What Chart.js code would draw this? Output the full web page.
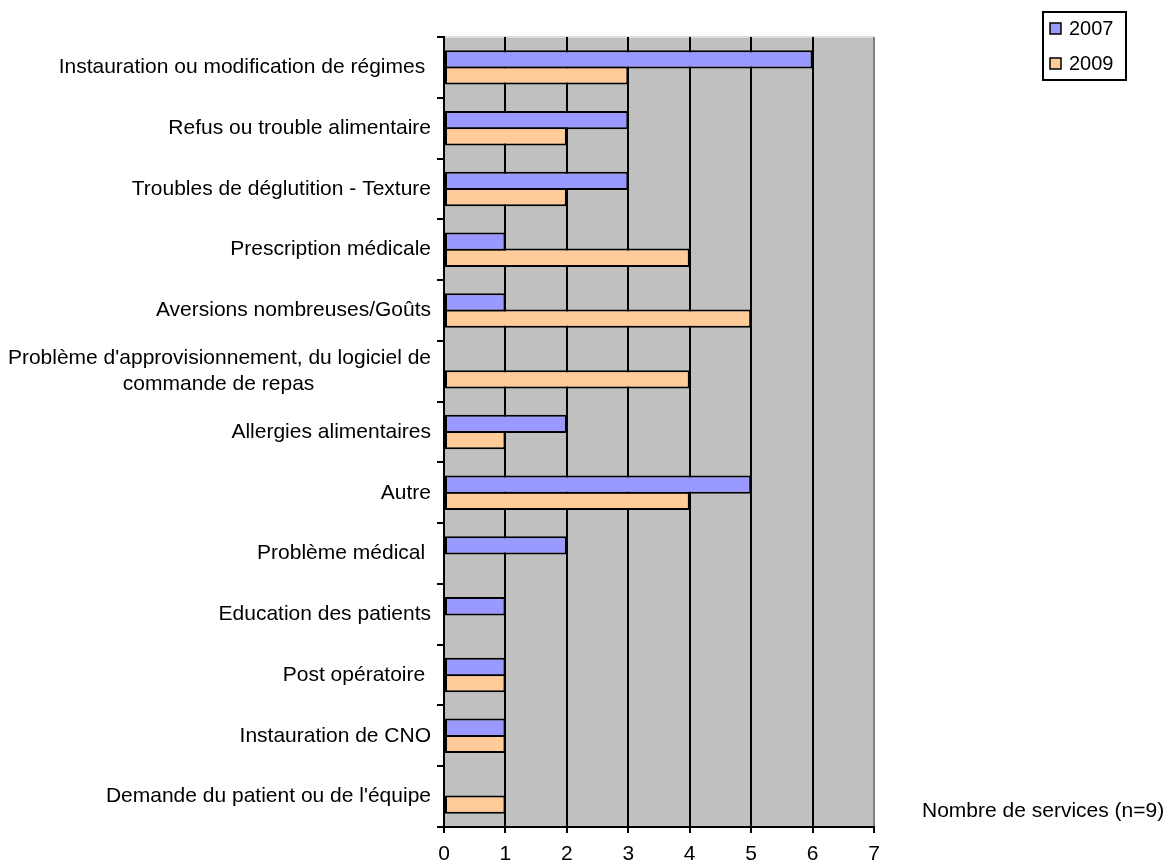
<!DOCTYPE html>
<html><head><meta charset="utf-8">
<script src="https://cdn.jsdelivr.net/npm/chart.js@4"></script>
<style>html,body{margin:0;padding:0;background:#fff;}#wrap{width:1166px;height:865px;}</style>
</head><body><div id="wrap"><canvas id="c" width="1166" height="865"></canvas></div>
<script>
const categories = [
  "Instauration ou modification de régimes ",
  "Refus ou trouble alimentaire",
  "Troubles de déglutition - Texture",
  "Prescription médicale",
  "Aversions nombreuses/Goûts",
  ["Problème d'approvisionnement, du logiciel de", "commande de repas" + " ".repeat(20)],
  "Allergies alimentaires",
  "Autre",
  "Problème médical ",
  "Education des patients",
  "Post opératoire ",
  "Instauration de CNO",
  "Demande du patient ou de l'équipe"
];
const series2007 = [6, 3, 3, 1, 1, null, 2, 5, 2, 1, 1, 1, null];
const series2009 = [3, 2, 2, 4, 5, 4, 1, 4, null, null, 1, 1, 1];
const seriesNames = ["2007", "2009"];
const seriesColors = ["#9999FF", "#FFCC99"];
const xMin = 0, xMax = 7, xStep = 1;
const axisNote = "Nombre de services (n=9)";

const FONT = "'Liberation Sans', Arial, sans-serif";

const bgPlugin = {
  id: 'bg',
  beforeDraw(chart) {
    const {ctx, chartArea: a} = chart;
    ctx.save();
    ctx.fillStyle = '#C0C0C0';
    ctx.fillRect(a.left, a.top, a.right - a.left, a.bottom - a.top);
    ctx.strokeStyle = '#DDDDDD';
    ctx.lineWidth = 2;
    ctx.beginPath();
    ctx.moveTo(a.left, a.top);
    ctx.lineTo(a.right, a.top);
    ctx.stroke();
    ctx.restore();
  }
};

const legendPlugin = {
  id: 'customLegend',
  afterDraw(chart) {
    const ctx = chart.ctx;
    ctx.save();
    ctx.fillStyle = '#fff';
    ctx.fillRect(1043, 12, 83, 68);
    ctx.strokeStyle = '#000';
    ctx.lineWidth = 2;
    ctx.strokeRect(1043, 12, 83, 68);
    ctx.font = '20px ' + FONT;
    ctx.textBaseline = 'middle';
    chart.data.datasets.forEach((ds, i) => {
      const cy = 28 + i * 35;
      ctx.fillStyle = ds.backgroundColor;
      ctx.fillRect(1050, cy - 5, 11, 11);
      ctx.lineWidth = 1.5;
      ctx.strokeStyle = '#000';
      ctx.strokeRect(1050, cy - 5, 11, 11);
      ctx.fillStyle = '#000';
      ctx.fillText(ds.label, 1069, cy + 1);
    });
    ctx.restore();
  }
};

const notePlugin = {
  id: 'note',
  afterDraw(chart) {
    const ctx = chart.ctx;
    ctx.save();
    ctx.font = '21px ' + FONT;
    ctx.fillStyle = '#000';
    ctx.textBaseline = 'middle';
    ctx.textAlign = 'left';
    ctx.fillText(axisNote, 922, 811);
    ctx.restore();
  }
};

new Chart(document.getElementById('c'), {
  type: 'bar',
  data: {
    labels: categories,
    datasets: [
      { label: seriesNames[0], data: series2007, backgroundColor: seriesColors[0], borderColor: '#000', borderWidth: 2, borderSkipped: false },
      { label: seriesNames[1], data: series2009, backgroundColor: seriesColors[1], borderColor: '#000', borderWidth: 2, borderSkipped: false }
    ]
  },
  options: {
    indexAxis: 'y',
    responsive: false,
    animation: false,
    devicePixelRatio: 1,
    layout: { padding: { top: 37, right: 292, left: 0, bottom: 0 } },
    categoryPercentage: 0.532,
    barPercentage: 1.133,
    plugins: { legend: { display: false }, tooltip: { enabled: false } },
    scales: {
      x: {
        min: xMin, max: xMax,
        ticks: { stepSize: xStep, color: '#000', font: { family: FONT, size: 21 }, padding: 9 },
        grid: {
          color: ctx => (ctx.tick && ctx.tick.value === xMax) ? '#808080' : '#000',
          tickColor: '#000',
          lineWidth: 2, tickLength: 6, drawOnChartArea: true, drawTicks: true
        },
        border: { display: true, color: '#000', width: 2 },
        afterFit(scale) { scale.height = 38; }
      },
      y: {
        ticks: { color: '#000', font: { family: FONT, size: 21, lineHeight: 1.27 }, padding: 6, autoSkip: false },
        grid: { drawOnChartArea: false, drawTicks: true, tickLength: 7, color: '#000', lineWidth: 2, offset: true },
        border: { display: true, color: '#000', width: 2 },
        afterFit(scale) { scale.width = 444; }
      }
    }
  },
  plugins: [bgPlugin, legendPlugin, notePlugin]
});
</script>
</body></html>
